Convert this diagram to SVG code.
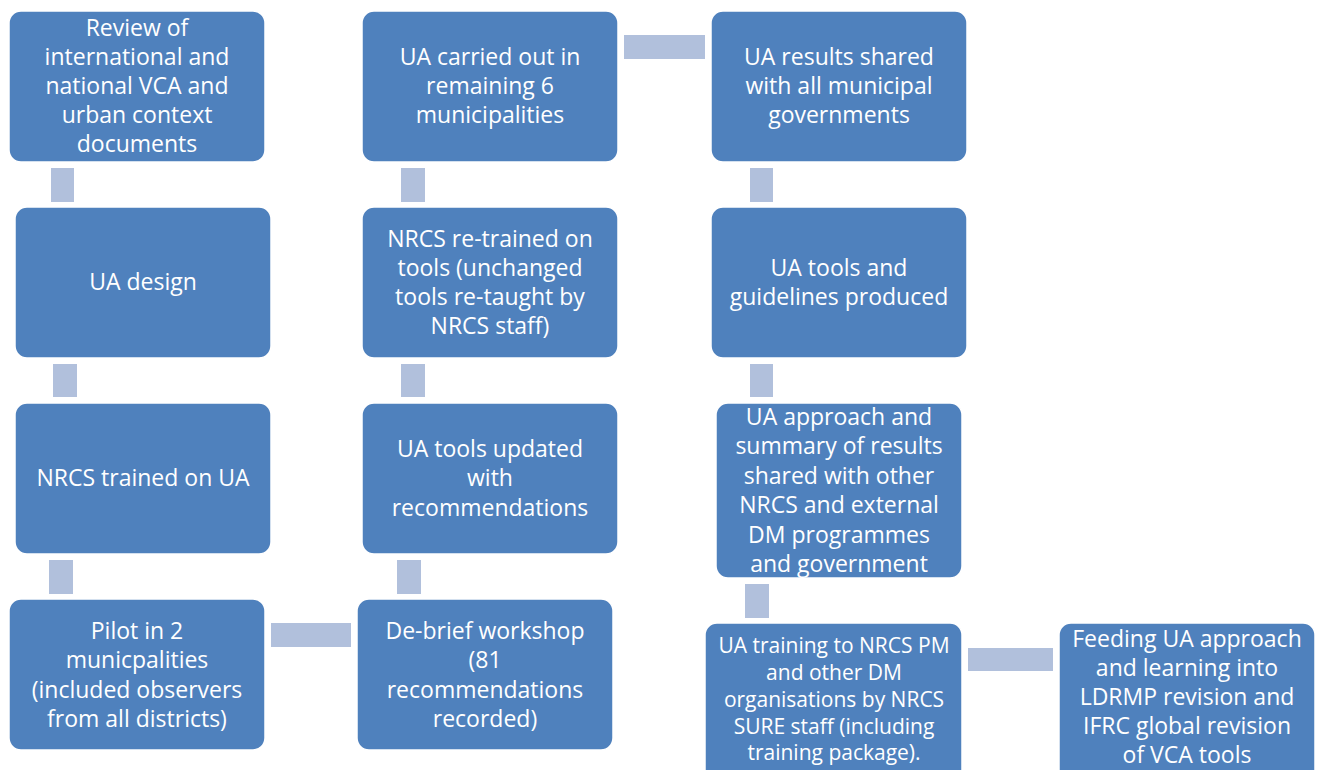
<svg xmlns="http://www.w3.org/2000/svg" width="1320" height="770" viewBox="0 0 1320 770">
<style>
.box{fill:#4f81bd;stroke:#ffffff;stroke-width:1.5}
.c{fill:#b1c0dc}
text{font-family:"Open Sans","Noto Sans","Liberation Sans",sans-serif;font-size:23px;fill:#ffffff;text-anchor:middle}
.s{font-size:21px}
</style>
<rect width="1320" height="770" fill="#ffffff"/>
<g id="connectors">
<rect class="c" x="51" y="168" width="23" height="34"/>
<rect class="c" x="53" y="364" width="24" height="33"/>
<rect class="c" x="49" y="560" width="24" height="34"/>
<rect class="c" x="271" y="623" width="80" height="24"/>
<rect class="c" x="401" y="168" width="24" height="34"/>
<rect class="c" x="401" y="364" width="24" height="33"/>
<rect class="c" x="397" y="560" width="24" height="34"/>
<rect class="c" x="624" y="35" width="81" height="24"/>
<rect class="c" x="750" y="168" width="23" height="34"/>
<rect class="c" x="750" y="364" width="23" height="33"/>
<rect class="c" x="745" y="584" width="24" height="34"/>
<rect class="c" x="968" y="648" width="85" height="23"/>
</g>
<g id="n1">
<rect class="box" x="9" y="11" width="256" height="151" rx="12"/>
<text x="137" y="36">Review of</text>
<text x="137" y="65">international and</text>
<text x="137" y="94">national VCA and</text>
<text x="137" y="123">urban context</text>
<text x="137" y="152">documents</text>
</g>
<g id="n2">
<rect class="box" x="15" y="207" width="256" height="151" rx="12"/>
<text x="143" y="290">UA design</text>
</g>
<g id="n3">
<rect class="box" x="15" y="403" width="256" height="151" rx="12"/>
<text x="143" y="486">NRCS trained on UA</text>
</g>
<g id="n4">
<rect class="box" x="9" y="599" width="256" height="151" rx="12"/>
<text x="137" y="639">Pilot in 2</text>
<text x="137" y="668">municpalities</text>
<text x="137" y="698">(included observers</text>
<text x="137" y="727">from all districts)</text>
</g>
<g id="n5">
<rect class="box" x="362" y="11" width="256" height="151" rx="12"/>
<text x="490" y="65">UA carried out in</text>
<text x="490" y="94">remaining 6</text>
<text x="490" y="123">municipalities</text>
</g>
<g id="n6">
<rect class="box" x="362" y="207" width="256" height="151" rx="12"/>
<text x="490" y="247">NRCS re-trained on</text>
<text x="490" y="276">tools (unchanged</text>
<text x="490" y="305">tools re-taught by</text>
<text x="490" y="334">NRCS staff)</text>
</g>
<g id="n7">
<rect class="box" x="362" y="403" width="256" height="151" rx="12"/>
<text x="490" y="457">UA tools updated</text>
<text x="490" y="486">with</text>
<text x="490" y="516">recommendations</text>
</g>
<g id="n8">
<rect class="box" x="357" y="599" width="256" height="151" rx="12"/>
<text x="485" y="639">De-brief workshop</text>
<text x="485" y="668">(81</text>
<text x="485" y="698">recommendations</text>
<text x="485" y="727">recorded)</text>
</g>
<g id="n9">
<rect class="box" x="711" y="11" width="256" height="151" rx="12"/>
<text x="839" y="65">UA results shared</text>
<text x="839" y="94">with all municipal</text>
<text x="839" y="123">governments</text>
</g>
<g id="n10">
<rect class="box" x="711" y="207" width="256" height="151" rx="12"/>
<text x="839" y="276">UA tools and</text>
<text x="839" y="305">guidelines produced</text>
</g>
<g id="n11">
<rect class="box" x="716" y="403" width="246" height="175" rx="12"/>
<text x="839" y="425">UA approach and</text>
<text x="839" y="454">summary of results</text>
<text x="839" y="484">shared with other</text>
<text x="839" y="513">NRCS and external</text>
<text x="839" y="543">DM programmes</text>
<text x="839" y="572">and government</text>
</g>
<g id="n12">
<rect class="box" x="705" y="623" width="257" height="160" rx="12"/>
<text class="s" x="834" y="653">UA training to NRCS PM</text>
<text class="s" x="834" y="680">and other DM</text>
<text class="s" x="834" y="707">organisations by NRCS</text>
<text class="s" x="834" y="734">SURE staff (including</text>
<text class="s" x="834" y="760">training package).</text>
</g>
<g id="n13">
<rect class="box" x="1059" y="623" width="256" height="160" rx="12"/>
<text x="1187" y="647">Feeding UA approach</text>
<text x="1187" y="676">and learning into</text>
<text x="1187" y="705">LDRMP revision and</text>
<text x="1187" y="734">IFRC global revision</text>
<text x="1187" y="763">of VCA tools</text>
</g>
</svg>
